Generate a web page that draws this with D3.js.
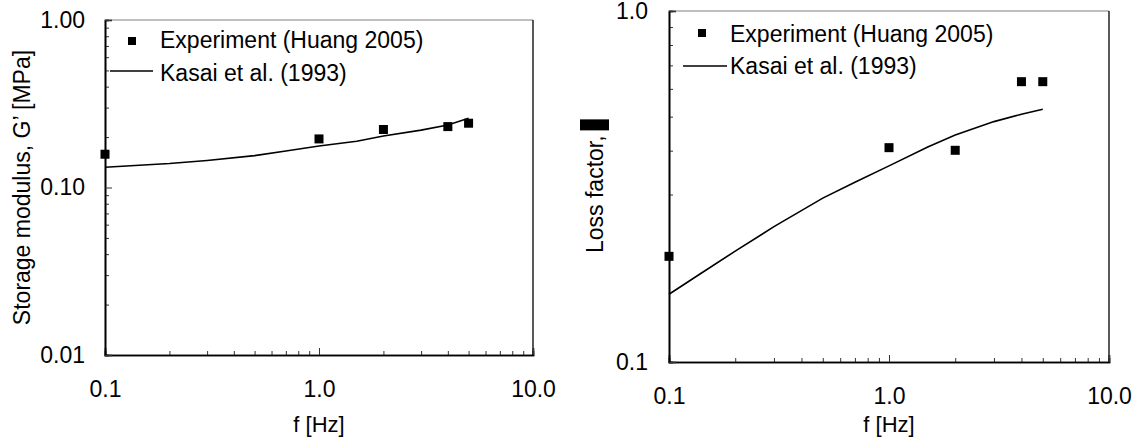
<!DOCTYPE html>
<html>
<head>
<meta charset="utf-8">
<script src="https://cdn.jsdelivr.net/npm/d3@7"></script>
<style>
  body { margin: 0; background: white; }
  text { font-family: Arial, "Liberation Sans", Helvetica, sans-serif; fill: black; }
</style>
</head>
<body>
<div id="chart"></div>
<script>
/* CONSTANTS AND GLOBALS */
const width = 1137;
const height = 447;

/* DATA */
// storage modulus G' [MPa]
const expFreq = [0.1, 1, 2, 4, 5];
const expStorage = [0.158, 0.195, 0.222, 0.231, 0.242];
const kasaiFreq = [0.1, 0.2, 0.3, 0.5, 0.7, 1.0, 1.5, 2, 3, 4, 5];
const kasaiStorage = [0.132, 0.139, 0.145, 0.155, 0.165, 0.177, 0.189, 0.203, 0.220, 0.236, 0.259];
// loss factor
const expLoss = [0.2, 0.408, 0.401, 0.629, 0.629];
const kasaiLossFreq = [0.1, 0.14, 0.2, 0.3, 0.5, 0.7, 1.0, 1.5, 2, 3, 4, 5];
const kasaiLoss = [0.156, 0.179, 0.207, 0.243, 0.293, 0.325, 0.362, 0.410, 0.443, 0.484, 0.508, 0.525];

const xMajor = [0.1, 1, 10];
const xMinor = [0.2, 0.3, 0.4, 0.5, 0.6, 0.7, 0.8, 0.9, 2, 3, 4, 5, 6, 7, 8, 9];
const yMajorLeft = [0.01, 0.1, 1];
const yMinorLeft = [0.02, 0.03, 0.04, 0.05, 0.06, 0.07, 0.08, 0.09, 0.2, 0.3, 0.4, 0.5, 0.6, 0.7, 0.8, 0.9];
const yMajorRight = [0.1, 1];
const yMinorRight = [0.2, 0.3, 0.4, 0.5, 0.6, 0.7, 0.8, 0.9];

const legendLabels = ["Experiment (Huang 2005)", "Kasai et al. (1993)"];

const svg = d3.select("#chart")
  .append("svg")
  .attr("width", width)
  .attr("height", height)
  .style("background-color", "white");

function drawPanel(cfg) {
  const xScale = d3.scaleLog().domain([0.1, 10]).range([cfg.left, cfg.right]);
  const yScale = d3.scaleLog().domain(cfg.yDomain).range([cfg.bottom, cfg.top]);
  const g = svg.append("g");

  // frame top / right
  g.append("line")
    .attr("x1", cfg.left).attr("x2", cfg.right)
    .attr("y1", cfg.top).attr("y2", cfg.top)
    .attr("stroke", "#808080").attr("stroke-width", 1.2);
  g.append("line")
    .attr("x1", cfg.right).attr("x2", cfg.right)
    .attr("y1", cfg.top).attr("y2", cfg.bottom)
    .attr("stroke", "black").attr("stroke-width", 1.3);

  // x axis
  const xMin = g.append("g").attr("transform", `translate(0,${cfg.bottom})`)
    .call(d3.axisBottom(xScale).tickValues(xMinor).tickSize(-4).tickFormat(""));
  const xMaj = g.append("g").attr("transform", `translate(0,${cfg.bottom})`)
    .call(d3.axisBottom(xScale).tickValues(xMajor).tickSize(-7).tickPadding(26)
      .tickFormat(d3.format(".1f")));
  // y axis
  const yMin = g.append("g").attr("transform", `translate(${cfg.left},0)`)
    .call(d3.axisLeft(yScale).tickValues(cfg.yMinor).tickSize(-4).tickFormat(""));
  const yMaj = g.append("g").attr("transform", `translate(${cfg.left},0)`)
    .call(d3.axisLeft(yScale).tickValues(cfg.yMajor).tickSize(-7).tickPadding(cfg.yPad)
      .tickFormat(d3.format(cfg.yFormat)));

  [xMin, xMaj, yMin, yMaj].forEach(a => {
    a.attr("font-family", null);
    a.select(".domain").attr("stroke", "black").attr("stroke-width", 1.6);
    a.selectAll(".tick line").attr("stroke", "#333").attr("stroke-width", 1);
    a.selectAll("text").attr("font-size", 23).attr("fill", "black");
  });

  // x title
  g.append("text")
    .attr("x", (cfg.left + cfg.right) / 2).attr("y", 432)
    .attr("text-anchor", "middle").attr("font-size", 22)
    .text("f [Hz]");

  // model line
  const line = d3.line().x(d => xScale(d[0])).y(d => yScale(d[1]));
  g.append("path")
    .datum(d3.zip(cfg.lineX, cfg.lineY))
    .attr("d", line)
    .attr("fill", "none").attr("stroke", "black").attr("stroke-width", 1.6);

  // experiment markers
  g.selectAll(".pt")
    .data(d3.zip(expFreq, cfg.pts))
    .join("rect")
    .attr("class", "pt")
    .attr("x", d => xScale(d[0]) - 4.5)
    .attr("y", d => yScale(d[1]) - 4.5)
    .attr("width", 9).attr("height", 9)
    .attr("fill", "black");

  // legend
  const lg = g.append("g");
  lg.append("rect")
    .attr("x", cfg.legMarkX - 4).attr("y", cfg.legY1 - 4)
    .attr("width", 8).attr("height", 8).attr("fill", "black");
  lg.append("line")
    .attr("x1", cfg.legLineX1).attr("x2", cfg.legLineX2)
    .attr("y1", cfg.legY2).attr("y2", cfg.legY2)
    .attr("stroke", "black").attr("stroke-width", 1.5);
  lg.selectAll("text")
    .data(legendLabels)
    .join("text")
    .attr("x", cfg.legTextX)
    .attr("y", (d, i) => i === 0 ? cfg.legBase1 : cfg.legBase2)
    .attr("font-size", 23)
    .text(d => d);

  return g;
}

drawPanel({
  left: 105, right: 533, top: 20, bottom: 355,
  yDomain: [0.01, 1], yMajor: yMajorLeft, yMinor: yMinorLeft,
  yFormat: ".2f", yPad: 20,
  lineX: kasaiFreq, lineY: kasaiStorage, pts: expStorage,
  legMarkX: 132, legY1: 41, legY2: 71, legLineX1: 110, legLineX2: 153,
  legTextX: 160, legBase1: 48, legBase2: 81
});

drawPanel({
  left: 669, right: 1109, top: 11, bottom: 362,
  yDomain: [0.1, 1], yMajor: yMajorRight, yMinor: yMinorRight,
  yFormat: ".1f", yPad: 21,
  lineX: kasaiLossFreq, lineY: kasaiLoss, pts: expLoss,
  legMarkX: 702, legY1: 33, legY2: 66, legLineX1: 683, legLineX2: 727,
  legTextX: 730, legBase1: 42, legBase2: 74
});

// y titles
svg.append("text")
  .attr("transform", "translate(30,187.5) rotate(-90)")
  .attr("text-anchor", "middle").attr("font-size", 23)
  .text("Storage modulus, G\u2019 [MPa]");

const lossLabel = svg.append("g").attr("transform", "translate(603,253) rotate(-90)");
const lossText = lossLabel.append("text")
  .attr("x", 0).attr("y", 0).attr("font-size", 23)
  .text("Loss factor,");
const lossLen = lossText.node().getComputedTextLength();
lossLabel.append("rect")
  .attr("x", lossLen + 5).attr("y", -23)
  .attr("width", 11).attr("height", 29)
  .attr("fill", "black");
</script>
</body>
</html>
